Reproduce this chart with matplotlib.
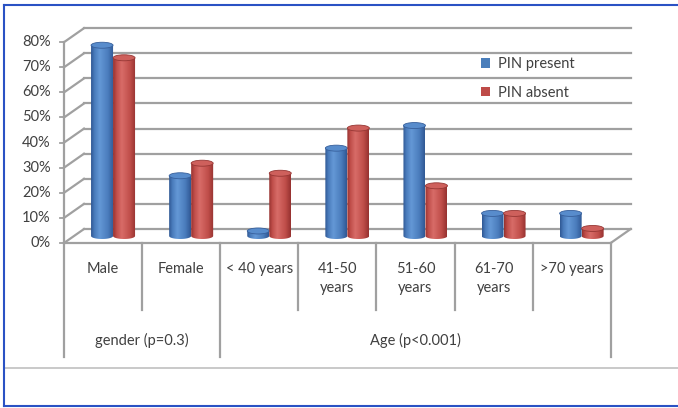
import numpy as np
import matplotlib
matplotlib.use('Agg')
import matplotlib.pyplot as plt
from matplotlib.colors import LinearSegmentedColormap
from matplotlib.patches import Ellipse, Polygon, Patch
from matplotlib.lines import Line2D

# data (percent)
categories = ['Male', 'Female', '< 40 years', '41-50\nyears', '51-60\nyears', '61-70\nyears', '>70 years']
pin_present = [76, 24, 2, 35, 44, 9, 9]
pin_absent = [71, 29, 25, 43, 20, 9, 3]
groups = ['gender (p=0.3)', 'Age (p<0.001)']
group_sizes = [2, 5]
yticks = [0, 10, 20, 30, 40, 50, 60, 70, 80]
series_names = ['PIN present', 'PIN absent']

plt.rcParams['font.family'] = ['Lato', 'DejaVu Sans']
txt_col = '#404040'
grid_col = '#a0a0a0'

# pixel layout of the front plane
W, H = 678, 408
PX0, PXW = 64, 78.1     # px of x=0, px per category
PY0, PYS = 243, 2.51    # px of 0%, px per percent
DX = 20 / PXW           # depth offset in category units
DV = 14 / PYS           # depth offset in percent units

fig = plt.figure(figsize=(W / 100, H / 100), dpi=100, facecolor='white')
ax = fig.add_axes([0, 0, 1, 1])
ax.axis('off')

n = len(categories)

# walls, floor and grid
for v in yticks:
    ax.plot([0, DX], [v, v + DV], color=grid_col, lw=1.6, zorder=1)
    ax.plot([DX, n + DX], [v + DV, v + DV], color=grid_col, lw=1.6, zorder=1)
    ax.plot([-0.05, 0], [v, v], color=grid_col, lw=1.3, zorder=1)
    ax.text(-0.17, v, '%d%%' % v, ha='right', va='center', fontsize=10.5, color=txt_col)
ax.plot([0, 0], [0, yticks[-1]], color=grid_col, lw=1.6, zorder=1)
ax.plot([0, n], [0, 0], color=grid_col, lw=1.6, zorder=1)
ax.plot([n, n + DX], [0, DV], color=grid_col, lw=1.6, zorder=1)


def cmap_for(edge, mid, light):
    pos = [0, 0.15, 0.38, 0.75, 1]
    cols = [np.array(c) / 255 for c in (edge, mid, light, mid, edge)]
    return LinearSegmentedColormap.from_list('cyl', list(zip(pos, cols)))


styles = [
    dict(cmap=cmap_for((48, 88, 148), (74, 124, 188), (100, 152, 214)),
         top=(88, 140, 204), edge=(55, 95, 155), legend='#4a7ebb'),
    dict(cmap=cmap_for((150, 50, 48), (192, 78, 74), (216, 108, 104)),
         top=(206, 96, 92), edge=(150, 55, 52), legend='#be4b48'),
]

bw = 22 / PXW
eh = 6 / PYS
base = DV / 2
grad = np.linspace(0, 1, 64).reshape(1, -1)


def cylinder(xc, h, st, z):
    x0, x1 = xc - bw / 2, xc + bw / 2
    top = base + h
    t = np.linspace(np.pi, 2 * np.pi, 40)
    arc = np.column_stack([xc + bw / 2 * np.cos(t), base + eh / 2 * np.sin(t)])
    pts = np.vstack([[x0, top], arc, [x1, top]])
    poly = Polygon(pts, closed=True, facecolor='none', edgecolor='none', zorder=z)
    ax.add_patch(poly)
    im = ax.imshow(grad, cmap=st['cmap'], aspect='auto', extent=[x0, x1, base - eh, top],
                   interpolation='bilinear', zorder=z)
    im.set_clip_path(poly)
    ax.add_patch(Ellipse((xc, top), bw, eh, facecolor=np.array(st['top']) / 255,
                         edgecolor=np.array(st['edge']) / 255, lw=0.6, zorder=z + 0.1))


for i in range(n):
    xc = i + 0.5 + DX / 2
    cylinder(xc - bw / 2, pin_present[i], styles[0], 3 + i)
    cylinder(xc + bw / 2, pin_absent[i], styles[1], 3.5 + i)

ax.set_xlim(-PX0 / PXW, (W - PX0) / PXW)
ax.set_ylim((PY0 - H) / PYS, PY0 / PYS)

# category axis table
v_inner = (PY0 - 310) / PYS
v_outer = (PY0 - 357) / PYS
edges = np.cumsum([0] + group_sizes)
for k in range(n + 1):
    bottom = v_outer if k in edges else v_inner
    ax.plot([k, k], [0, bottom], color=grid_col, lw=1.6, zorder=1)
for i, lab in enumerate(categories):
    ax.text(i + 0.5, (PY0 - 262) / PYS, lab, ha='center', va='top', fontsize=10.5,
            color=txt_col, linespacing=1.45)
for g, lab in enumerate(groups):
    ax.text((edges[g] + edges[g + 1]) / 2, (PY0 - 340) / PYS, lab, ha='center',
            va='center', fontsize=10.5, color=txt_col)

# legend
handles = [Patch(facecolor=st['legend'], edgecolor='none') for st in styles]
ax.legend(handles, series_names, loc='upper left', bbox_to_anchor=(481 / W, 1 - 57 / H),
          bbox_transform=fig.transFigure, frameon=False, fontsize=10.5, handlelength=0.65,
          handleheight=0.65, handletextpad=0.5, labelspacing=1.0, borderpad=0,
          borderaxespad=0, labelcolor=txt_col)

# frame lines of the picture
fig.add_artist(Line2D([4 / W, 1], [1 - 368 / H, 1 - 368 / H], transform=fig.transFigure,
                      color='#c0c0c0', lw=1.2))
border = '#2a52c4'
fig.add_artist(Line2D([4 / W, 1], [1 - 5 / H, 1 - 5 / H], transform=fig.transFigure, color=border, lw=1.5))
fig.add_artist(Line2D([4 / W, 4 / W], [1 - 5 / H, 1 - 406 / H], transform=fig.transFigure, color=border, lw=1.5))
fig.add_artist(Line2D([4 / W, 1], [1 - 406 / H, 1 - 406 / H], transform=fig.transFigure, color=border, lw=1.5))

fig.savefig('out.png', dpi=100, facecolor='white')
